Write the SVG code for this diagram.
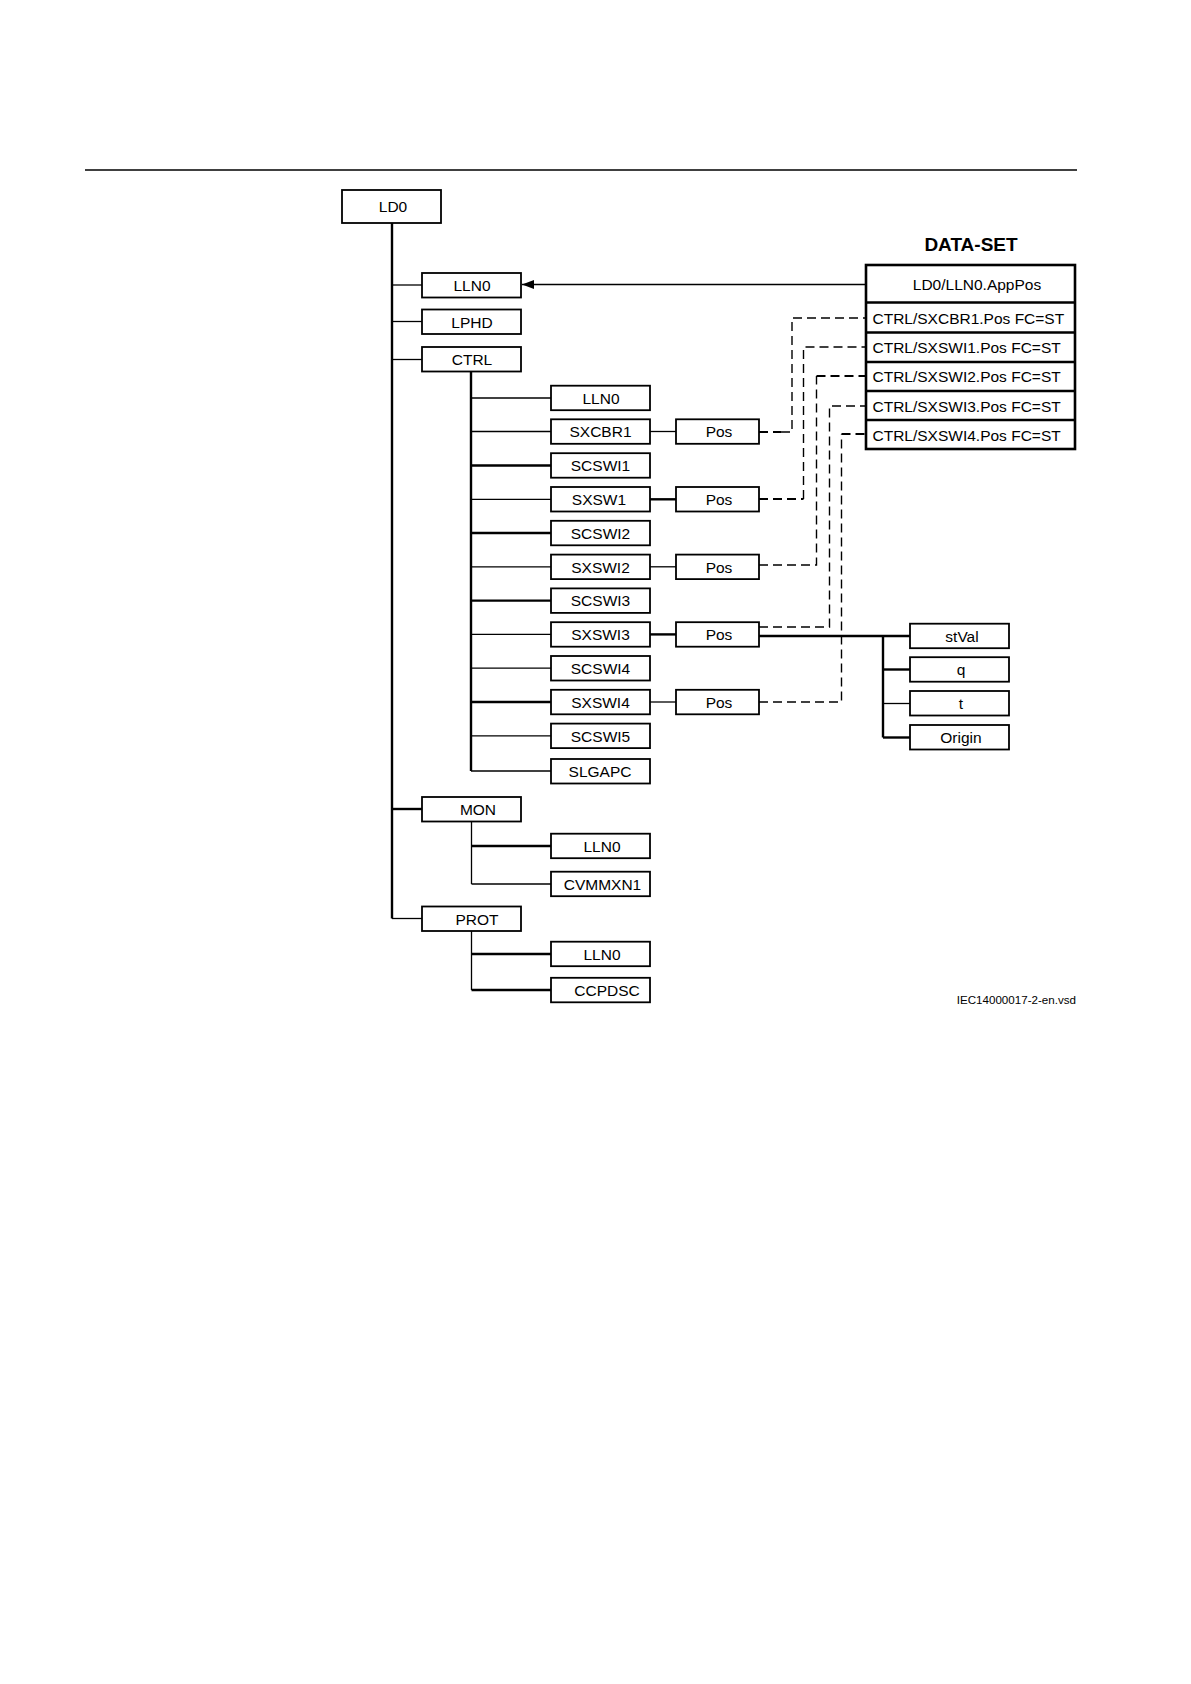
<svg xmlns="http://www.w3.org/2000/svg" width="1191" height="1684" viewBox="0 0 1191 1684">
<style>
.b{fill:#fff;stroke:#000;stroke-width:1.8}
.t{font-family:"Liberation Sans",Arial,sans-serif;font-size:15.5px;text-anchor:middle;fill:#000}
.r{font-family:"Liberation Sans",Arial,sans-serif;font-size:15.5px;fill:#000}
.n{fill:none;stroke:#000;stroke-width:1.3}
.k{fill:none;stroke:#000;stroke-width:2.4}
.d{fill:none;stroke:#000;stroke-width:1.4;stroke-dasharray:9 5}
.dk{fill:none;stroke:#000;stroke-width:2.2;stroke-dasharray:9 5}
</style>
<defs>
<marker id="ah" markerWidth="13" markerHeight="9" refX="12" refY="4.5" orient="auto" markerUnits="userSpaceOnUse">
<path d="M0,0 L12,4.5 L0,9 Z" fill="#000"/>
</marker>
</defs>
<rect width="1191" height="1684" fill="#fff"/>
<line x1="85" y1="170" x2="1077" y2="170" stroke="#000" stroke-width="1.6"/>

<g id="connectors">
<path class="k" d="M392,223 V918.5"/>
<path class="n" d="M392,285 H422"/>
<path class="n" d="M392,321.5 H422"/>
<path class="n" d="M392,359.5 H422"/>
<path class="k" d="M392,809 H422"/>
<path class="n" d="M392,918.5 H422"/>
<path class="k" d="M471,372 V771"/>
<path class="n" d="M471,398 H551"/>
<path class="n" d="M471,431.5 H551"/>
<path class="k" d="M471,465.5 H551"/>
<path class="n" d="M471,499.3 H551"/>
<path class="k" d="M471,533 H551"/>
<path class="n" d="M471,566.8 H551"/>
<path class="k" d="M471,600.6 H551"/>
<path class="n" d="M471,634.4 H551"/>
<path class="n" d="M471,668.2 H551"/>
<path class="k" d="M471,702 H551"/>
<path class="n" d="M471,735.8 H551"/>
<path class="n" d="M471,771 H551"/>
<path class="n" d="M471.5,821 V884"/>
<path class="k" d="M471.5,846 H551"/>
<path class="n" d="M471.5,884 H551"/>
<path class="n" d="M471.5,931 V990"/>
<path class="k" d="M471.5,954 H551"/>
<path class="k" d="M471.5,990 H551"/>
<path class="n" d="M650,431.5 H676"/>
<path class="k" d="M650,499.3 H676"/>
<path class="n" d="M650,566.8 H676"/>
<path class="k" d="M650,634.4 H676"/>
<path class="n" d="M650,702 H676"/>
<path class="k" d="M759,636 H910"/>
<path class="k" d="M883,636 V737.5"/>
<path class="k" d="M883,669.5 H910"/>
<path class="n" d="M883,703.5 H910"/>
<path class="k" d="M883,737.5 H910"/>
<path class="n" d="M866,284.5 H522" marker-end="url(#ah)"/>
<path class="dk" d="M759,432 H781"/>
<path class="d" d="M781,432 H792 V318 H866"/>
<path class="dk" d="M759,499 H803.5"/>
<path class="d" d="M803.5,499 V347 H866"/>
<path class="d" d="M759,565 H816.5 V376"/>
<path class="dk" d="M816.5,376 H866"/>
<path class="d" d="M759,627 H829.5 V406 H866"/>
<path class="d" d="M759,702 H841.5 V434"/>
<path class="dk" d="M841.5,434 H866"/>
</g>

<g id="LD0"><rect class="b" x="342" y="190" width="99" height="33"/><text class="t" x="393" y="212">LD0</text></g>
<g id="LLN0_top"><rect class="b" x="422" y="273" width="99" height="24.5"/><text class="t" x="472" y="291">LLN0</text></g>
<g id="LPHD"><rect class="b" x="422" y="309.5" width="99" height="24.5"/><text class="t" x="472" y="327.5">LPHD</text></g>
<g id="CTRL"><rect class="b" x="422" y="347" width="99" height="24.5"/><text class="t" x="472" y="365">CTRL</text></g>
<g id="MON"><rect class="b" x="422" y="797" width="99" height="24.5"/><text class="t" x="478" y="815">MON</text></g>
<g id="PROT"><rect class="b" x="422" y="906.5" width="99" height="24.5"/><text class="t" x="477" y="924.5">PROT</text></g>

<g id="CTRL_LLN0"><rect class="b" x="551" y="385.7" width="99" height="24.5"/><text class="t" x="601" y="403.7">LLN0</text></g>
<g id="SXCBR1"><rect class="b" x="551" y="419.3" width="99" height="24.5"/><text class="t" x="600.5" y="437.3">SXCBR1</text></g>
<g id="SCSWI1"><rect class="b" x="551" y="453.2" width="99" height="24.5"/><text class="t" x="600.5" y="471.2">SCSWI1</text></g>
<g id="SXSW1"><rect class="b" x="551" y="487" width="99" height="24.5"/><text class="t" x="599" y="505">SXSW1</text></g>
<g id="SCSWI2"><rect class="b" x="551" y="520.8" width="99" height="24.5"/><text class="t" x="600.5" y="538.8">SCSWI2</text></g>
<g id="SXSWI2"><rect class="b" x="551" y="554.6" width="99" height="24.5"/><text class="t" x="600.5" y="572.6">SXSWI2</text></g>
<g id="SCSWI3"><rect class="b" x="551" y="588.4" width="99" height="24.5"/><text class="t" x="600.5" y="606.4">SCSWI3</text></g>
<g id="SXSWI3"><rect class="b" x="551" y="622.2" width="99" height="24.5"/><text class="t" x="600.5" y="640.2">SXSWI3</text></g>
<g id="SCSWI4"><rect class="b" x="551" y="656" width="99" height="24.5"/><text class="t" x="600.5" y="674">SCSWI4</text></g>
<g id="SXSWI4"><rect class="b" x="551" y="689.8" width="99" height="24.5"/><text class="t" x="600.5" y="707.8">SXSWI4</text></g>
<g id="SCSWI5"><rect class="b" x="551" y="723.6" width="99" height="24.5"/><text class="t" x="600.5" y="741.6">SCSWI5</text></g>
<g id="SLGAPC"><rect class="b" x="551" y="759" width="99" height="24.5"/><text class="t" x="600" y="777">SLGAPC</text></g>

<g id="MON_LLN0"><rect class="b" x="551" y="833.7" width="99" height="24.5"/><text class="t" x="602" y="851.7">LLN0</text></g>
<g id="CVMMXN1"><rect class="b" x="551" y="871.7" width="99" height="24.5"/><text class="t" x="602.5" y="889.7">CVMMXN1</text></g>
<g id="PROT_LLN0"><rect class="b" x="551" y="941.7" width="99" height="24.5"/><text class="t" x="602" y="959.7">LLN0</text></g>
<g id="CCPDSC"><rect class="b" x="551" y="977.8" width="99" height="24.5"/><text class="t" x="607" y="995.8">CCPDSC</text></g>

<g id="Pos_SXCBR1"><rect class="b" x="676" y="419.3" width="83" height="24.5"/><text class="t" x="719" y="437.3">Pos</text></g>
<g id="Pos_SXSW1"><rect class="b" x="676" y="487" width="83" height="24.5"/><text class="t" x="719" y="505">Pos</text></g>
<g id="Pos_SXSWI2"><rect class="b" x="676" y="554.6" width="83" height="24.5"/><text class="t" x="719" y="572.6">Pos</text></g>
<g id="Pos_SXSWI3"><rect class="b" x="676" y="622.2" width="83" height="24.5"/><text class="t" x="719" y="640.2">Pos</text></g>
<g id="Pos_SXSWI4"><rect class="b" x="676" y="689.8" width="83" height="24.5"/><text class="t" x="719" y="707.8">Pos</text></g>

<g id="stVal"><rect class="b" x="910" y="623.7" width="99" height="24.5"/><text class="t" x="962" y="641.7">stVal</text></g>
<g id="q"><rect class="b" x="910" y="657.2" width="99" height="24.5"/><text class="t" x="961" y="675.2">q</text></g>
<g id="t"><rect class="b" x="910" y="691" width="99" height="24.5"/><text class="t" x="961" y="709">t</text></g>
<g id="Origin"><rect class="b" x="910" y="725" width="99" height="24.5"/><text class="t" x="961" y="743">Origin</text></g>

<g id="DATA-SET">
<text x="971" y="251" font-family="'Liberation Sans',Arial,sans-serif" font-size="19" font-weight="bold" text-anchor="middle">DATA-SET</text>
<rect x="866" y="265" width="209" height="184" fill="#fff" stroke="#000" stroke-width="2.6"/>
<path d="M866,302.5 H1075 M866,332.5 H1075 M866,362 H1075 M866,391 H1075 M866,420 H1075" stroke="#000" stroke-width="2.6" fill="none"/>
<text class="r" x="977" y="289.5" text-anchor="middle">LD0/LLN0.AppPos</text>
<text class="r" x="872.5" y="323.5">CTRL/SXCBR1.Pos FC=ST</text>
<text class="r" x="872.5" y="353">CTRL/SXSWI1.Pos FC=ST</text>
<text class="r" x="872.5" y="382">CTRL/SXSWI2.Pos FC=ST</text>
<text class="r" x="872.5" y="411.5">CTRL/SXSWI3.Pos FC=ST</text>
<text class="r" x="872.5" y="440.5">CTRL/SXSWI4.Pos FC=ST</text>
</g>

<text x="1076" y="1004" font-family="'Liberation Sans',Arial,sans-serif" font-size="11.6" text-anchor="end">IEC14000017-2-en.vsd</text>
</svg>
